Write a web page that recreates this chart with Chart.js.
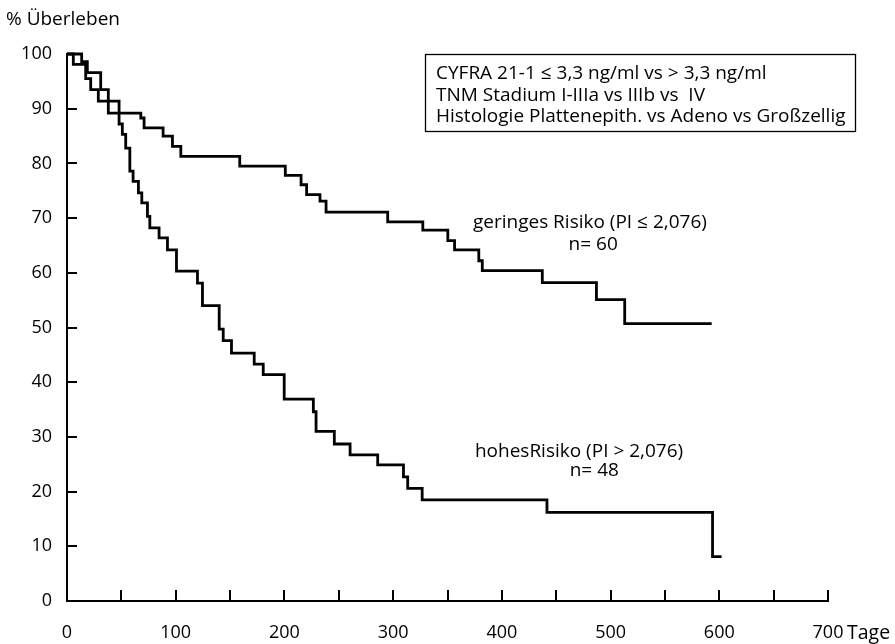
<!DOCTYPE html>
<html>
<head>
<meta charset="utf-8">
<script src="https://cdn.jsdelivr.net/npm/chart.js@4.4.1/dist/chart.umd.min.js"></script>
<style>
  html, body { margin: 0; padding: 0; background: #fff; }
  #wrap { width: 895px; height: 644px; position: relative; }
</style>
</head>
<body>
<div id="wrap"><canvas id="kmChart"></canvas></div>
<script>
// Kaplan-Meier steps: day of the drop and survival (%) after it
var lowDays = [0, 5.8, 17.2, 21.8, 28.8, 38.0, 67.9, 70.9, 88.4, 97, 104.7, 158.9, 200.8, 215.3, 220.4, 232.7, 238.3, 295, 327.3, 350.3, 356.5, 378.8, 382, 437.2, 487, 513, 593];
var lowSurv = [100, 98.1, 95.5, 93.5, 91.4, 89.2, 88.3, 86.5, 85.0, 83.1, 81.3, 79.5, 77.8, 76.1, 74.3, 73.1, 71.1, 69.3, 67.8, 65.9, 64.2, 62.2, 60.4, 58.2, 55.1, 50.7, 50.7];

var highDays = [0, 13.5, 18.7, 31.0, 38.0, 47.9, 50.9, 54.0, 57.8, 60.8, 65.7, 68.8, 74.0, 76.2, 84.7, 92.4, 100.7, 120.0, 124.6, 140.0, 143.7, 151.3, 172.2, 180.5, 199.8, 226.6, 229.1, 245.9, 260.4, 285.8, 309.5, 313.4, 326.7, 441.5, 593.8, 602.1];
var highSurv = [100, 98.6, 96.6, 93.5, 91.4, 87.2, 85.3, 82.8, 78.6, 76.7, 74.6, 72.8, 70.3, 68.2, 66.4, 64.2, 60.3, 58.1, 54.0, 49.7, 47.6, 45.3, 43.3, 41.4, 36.9, 34.6, 31.0, 28.7, 26.7, 24.9, 22.7, 20.6, 18.5, 16.2, 8.1, 8.1];

var xTicks = [0, 100, 200, 300, 400, 500, 600, 700];
var xMinorTicks = [50, 100, 150, 200, 250, 300, 350, 400, 450, 500, 550, 600, 650, 700];
var yTicks = [0, 10, 20, 30, 40, 50, 60, 70, 80, 90, 100];

var boxLines = [
    'CYFRA 21-1 \u2264 3,3 ng/ml vs > 3,3 ng/ml',
    'TNM Stadium I-IIIa vs IIIb vs  IV',
    'Histologie Plattenepith. vs Adeno vs Gro\u00dfzellig'
];

function toPoints(days, surv) {
    return days.map(function (d, i) { return { x: d, y: surv[i] }; });
}

var FONT = "'Open Sans', 'Noto Sans', sans-serif";
Chart.defaults.font.family = FONT;
Chart.defaults.color = '#000';

// inward tick marks, box and the free texts
var extras = {
    id: 'extras',
    afterDraw: function (chart) {
        var c = chart.ctx;
        var xs = chart.scales.x, ys = chart.scales.y;
        var area = chart.chartArea;
        c.save();
        c.strokeStyle = '#000';
        c.lineWidth = 2;
        c.beginPath();
        yTicks.forEach(function (v) {
            if (v === 0) return;
            var py = Math.round(ys.getPixelForValue(v));
            c.moveTo(area.left, py);
            c.lineTo(area.left + 10, py);
        });
        xMinorTicks.forEach(function (v) {
            var px = Math.round(xs.getPixelForValue(v));
            c.moveTo(px, area.bottom);
            c.lineTo(px, area.bottom - 11);
        });
        c.stroke();

        c.fillStyle = '#000';
        c.textBaseline = 'middle';

        c.font = '19px ' + FONT;
        c.textAlign = 'left';
        c.fillText('% \u00dcberleben', 6, 20);

        c.font = '19.5px ' + FONT;
        c.fillText('Tage', xs.getPixelForValue(700) + 19, 633);

        // box with the model covariates
        c.lineWidth = 1.3;
        c.strokeRect(425.5, 54.5, 430, 77);
        c.font = '19px ' + FONT;
        boxLines.forEach(function (t, i) {
            c.fillText(t, 436, 73.5 + i * 21.6);
        });

        // group labels
        c.textAlign = 'center';
        c.font = '19px ' + FONT;
        c.fillText('geringes Risiko (PI \u2264 2,076)', xs.getPixelForValue(481), ys.getPixelForValue(69.1));
        c.fillText('n= 60', xs.getPixelForValue(484), ys.getPixelForValue(65.1));
        c.fillText('hohesRisiko (PI > 2,076)', xs.getPixelForValue(471), ys.getPixelForValue(27.3));
        c.fillText('n= 48', xs.getPixelForValue(485), ys.getPixelForValue(23.8));
        c.restore();
    }
};

var ctx = document.getElementById('kmChart').getContext('2d');
var kmChart = new Chart(ctx, {
    type: 'line',
    data: {
        datasets: [{
            label: 'geringes Risiko',
            data: toPoints(lowDays, lowSurv),
            stepped: 'before',
            borderColor: '#000',
            borderWidth: 2.8,
            pointRadius: 0,
            fill: false,
            clip: false
        }, {
            label: 'hohes Risiko',
            data: toPoints(highDays, highSurv),
            stepped: 'before',
            borderColor: '#000',
            borderWidth: 2.8,
            pointRadius: 0,
            fill: false,
            clip: false
        }]
    },
    options: {
        responsive: true,
        maintainAspectRatio: false,
        animation: false,
        layout: { padding: { top: 54, right: 67, left: 0, bottom: 0 } },
        plugins: { legend: { display: false }, tooltip: { enabled: false } },
        scales: {
            x: {
                type: 'linear',
                min: 0,
                max: 700,
                afterBuildTicks: function (s) { s.ticks = xTicks.map(function (v) { return { value: v }; }); },
                afterFit: function (s) { s.height = 43; },
                grid: { display: false, drawTicks: false },
                border: { display: true, color: '#000', width: 2 },
                ticks: { padding: 21, maxRotation: 0, autoSkip: false, font: { size: 18 }, color: '#000' }
            },
            y: {
                min: 0,
                max: 100,
                afterBuildTicks: function (s) { s.ticks = yTicks.map(function (v) { return { value: v }; }); },
                afterFit: function (s) { s.width = 67; },
                grid: { display: false, drawTicks: false },
                border: { display: true, color: '#000', width: 2 },
                ticks: { padding: 15, font: { size: 18 }, color: '#000' }
            }
        }
    },
    plugins: [extras]
});
</script>
</body>
</html>
